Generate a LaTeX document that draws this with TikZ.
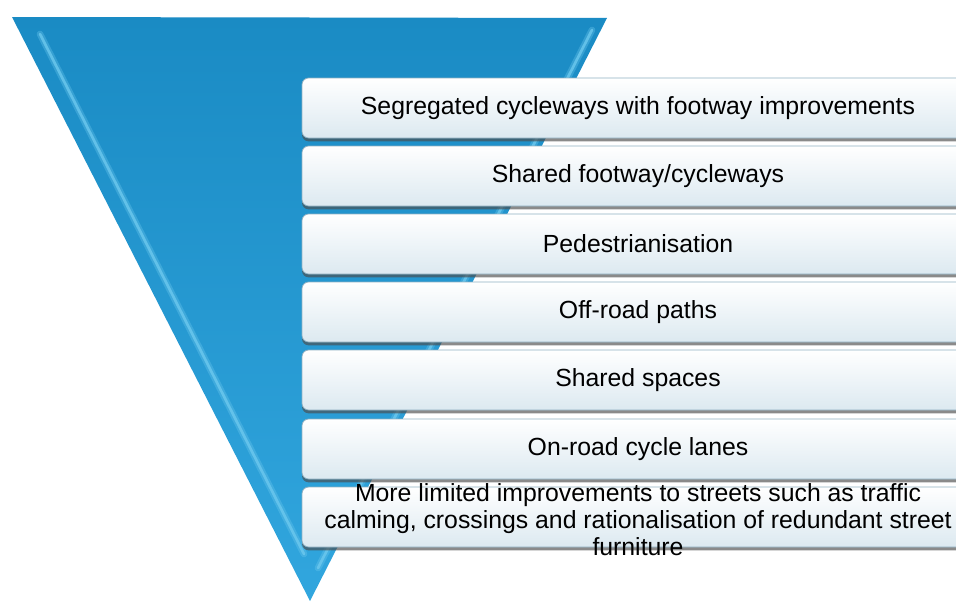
\documentclass[tikz,border=0pt]{standalone}
\usepackage{fontspec}
\setmainfont{Liberation Sans}
\usetikzlibrary{shadows}
\definecolor{funnelblue}{HTML}{1A8BC4}
\definecolor{funnellight}{HTML}{31A6DE}
\definecolor{bevel}{HTML}{6CC8EE}
\definecolor{boxedge}{HTML}{8FB0C2}
\definecolor{boxbottom}{HTML}{DCE9F0}

\begin{document}
\begin{tikzpicture}[x=0.75pt,y=-0.75pt]
		\tikzstyle{level}=[draw=boxedge,line width=0.6pt,rounded corners=5pt,top color=white,bottom color=boxbottom,minimum width=504pt,minimum height=45pt,inner sep=0pt,font=\fontsize{18.6}{20.5}\selectfont,drop shadow={shadow xshift=0pt,shadow yshift=-2.5pt,opacity=0.65,fill=black!70}]
		\tikzstyle{lines}=[align=center,inner sep=0pt,font=\fontsize{18.6}{20.5}\selectfont]

		\useasboundingbox (0,0) rectangle (956,603);

		% funnel
		\shade[top color=funnelblue,bottom color=funnellight] (12,17) -- (607,18) -- (310,601) -- cycle;
		\draw[bevel,line width=5pt,line cap=round,opacity=0.35] (40,34) -- (304,554);
		\draw[bevel,line width=2pt,line cap=round,opacity=0.8] (40,34) -- (304,554);
		\draw[bevel,line width=5pt,line cap=round,opacity=0.35] (592,30) -- (318,568);
		\draw[bevel,line width=2pt,line cap=round,opacity=0.8] (592,30) -- (318,568);

		\node[level](l1) at (638,108){Segregated cycleways with footway improvements};
		\node[level](l2) at (638,176){Shared footway/cycleways};
		\node[level](l3) at (638,244){Pedestrianisation};
		\node[level](l4) at (638,312){Off-road paths};
		\node[level](l5) at (638,380){Shared spaces};
		\node[level](l6) at (638,449){On-road cycle lanes};
		\node[level](l7) at (638,517){};
		\node[lines](t7) at ([yshift=-2pt]l7){More limited improvements to streets such as traffic\\calming, crossings and rationalisation of redundant street\\furniture};
	\end{tikzpicture}
\end{document}
